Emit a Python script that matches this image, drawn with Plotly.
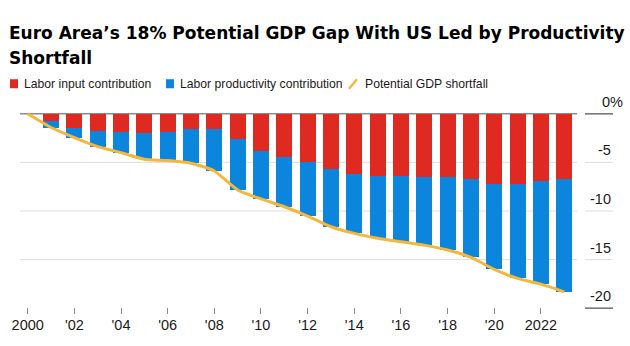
import plotly.graph_objects as go

# ---------------- data ----------------
years_bar = list(range(2001, 2024))
labor_input = [-0.72, -1.41, -1.75, -1.89, -1.93, -1.82, -1.58, -1.55, -2.60, -3.78,
               -4.43, -4.98, -5.69, -6.19, -6.39, -6.39, -6.46, -6.53, -6.70, -7.22,
               -7.19, -6.94, -6.73]
labor_productivity = [-0.69, -1.03, -1.62, -2.10, -2.74, -2.99, -3.50, -4.33, -5.24, -4.98,
                      -5.13, -5.54, -5.93, -6.11, -6.42, -6.77, -7.05, -7.49, -8.07, -8.79,
                      -9.75, -10.59, -11.59]
years_line = list(range(2000, 2024))
shortfall = [0.0, -1.41, -2.44, -3.37, -3.99, -4.67, -4.81, -5.08, -5.88, -7.84, -8.76,
             -9.56, -10.52, -11.62, -12.30, -12.81, -13.16, -13.51, -14.02, -14.77,
             -16.01, -16.94, -17.53, -18.32]

x_tickvals = list(range(2000, 2023, 2))
x_ticktext = ["2000", "'02", "'04", "'06", "'08", "'10", "'12", "'14", "'16", "'18", "'20", "2022"]
y_tickvals = [0, -5, -10, -15, -20]
y_ticktext = ["0%", "-5", "-10", "-15", "-20"]

series_names = ["Labor input contribution", "Labor productivity contribution",
                "Potential GDP shortfall"]
title_lines = ["Euro Area\u2019s 18% Potential GDP Gap With US Led by Productivity",
               "Shortfall"]

RED = "#DE2A21"
BLUE = "#0B86DC"
ORANGE = "#F5B63C"
TXT = "#1a1a1a"

# ---------------- geometry ----------------
W, H = 630, 346
L, R, T, B = 20, 17, 108.2, 32.2
PW, PH = W - L - R, H - T - B
x_range = [1999.67, 2025.09]
y_range = [-20.6, 0.6]


def xp(px):
    return (px - L) / PW


def yp(py):
    return (H - B - py) / PH


fig = go.Figure()
fig.add_trace(go.Bar(x=years_bar, y=labor_input, name=series_names[0],
                     marker=dict(color=RED, line=dict(width=0)), width=0.68,
                     showlegend=False))
fig.add_trace(go.Bar(x=years_bar, y=labor_productivity, name=series_names[1],
                     marker=dict(color=BLUE, line=dict(width=0)), width=0.68,
                     showlegend=False))
fig.add_trace(go.Scatter(x=years_line, y=shortfall, name=series_names[2], mode="lines",
                         line=dict(color=ORANGE, width=3, shape="spline", smoothing=0.6),
                         showlegend=False))

shapes = []
annotations = []
# gridlines + label underlines
for v, t in zip(y_tickvals, y_ticktext):
    dark = v in (0, -20)
    col = "#8c8c8c" if dark else "#dedede"
    wid = 1.5 if dark else 1
    if v != -20:
        shapes.append(dict(type="line", xref="x", yref="y", x0=x_range[0], x1=2023.55,
                           y0=v, y1=v, line=dict(color=col, width=wid), layer="below"))
    shapes.append(dict(type="line", xref="paper", yref="y", x0=xp(585), x1=1,
                       y0=v, y1=v, line=dict(color="#6e6e6e" if dark else "#dedede", width=wid),
                       layer="below"))
    annotations.append(dict(xref="paper", yref="y", x=1, y=v, text=t, showarrow=False,
                            xanchor="right", yanchor="middle", yshift=12,
                            xshift=12 if t.endswith("%") else 0,
                            font=dict(family="Liberation Sans, Arial", size=14.5, color=TXT)))

# title (two lines)
for i, line in enumerate(title_lines):
    annotations.append(dict(xref="paper", yref="paper", x=xp(7), y=yp(33 + 25 * i), text=line,
                            showarrow=False, xanchor="left", yanchor="middle",
                            font=dict(family="DejaVu Sans", size=17, color="#000000",
                                      weight="bold")))

# custom legend
leg_y = 84
sq = [(10, 18, RED, 22), (166, 174, BLUE, 178)]
for (a, b, c, tx), name in zip(sq, series_names[:2]):
    shapes.append(dict(type="rect", xref="paper", yref="paper", x0=xp(a), x1=xp(b),
                       y0=yp(leg_y + 4.5), y1=yp(leg_y - 4.5), fillcolor=c,
                       line=dict(width=0)))
    annotations.append(dict(xref="paper", yref="paper", x=xp(tx), y=yp(leg_y), text=name,
                            showarrow=False, xanchor="left", yanchor="middle",
                            font=dict(family="Liberation Sans, Arial", size=12.2, color=TXT)))
shapes.append(dict(type="line", xref="paper", yref="paper", x0=xp(349), x1=xp(357),
                   y0=yp(89), y1=yp(79.5), line=dict(color=ORANGE, width=2.5)))
annotations.append(dict(xref="paper", yref="paper", x=xp(363), y=yp(leg_y), text=series_names[2],
                        showarrow=False, xanchor="left", yanchor="middle",
                        font=dict(family="Liberation Sans, Arial", size=12.2, color=TXT)))

fig.update_layout(
    width=W, height=H,
    margin=dict(l=L, r=R, t=T, b=B, pad=0),
    paper_bgcolor="white", plot_bgcolor="white",
    barmode="relative", bargap=0,
    xaxis=dict(range=x_range, tickmode="array", tickvals=x_tickvals, ticktext=x_ticktext,
               ticks="inside", ticklen=6, tickcolor="#8c8c8c", tickwidth=1,
               showgrid=False, zeroline=False, showline=False,
               tickfont=dict(family="Liberation Sans, Arial", size=14.5, color=TXT)),
    yaxis=dict(range=y_range, showgrid=False, zeroline=False, showline=False,
               showticklabels=False, ticks=""),
    shapes=shapes, annotations=annotations,
    showlegend=False,
)

fig.write_html("out.html")
